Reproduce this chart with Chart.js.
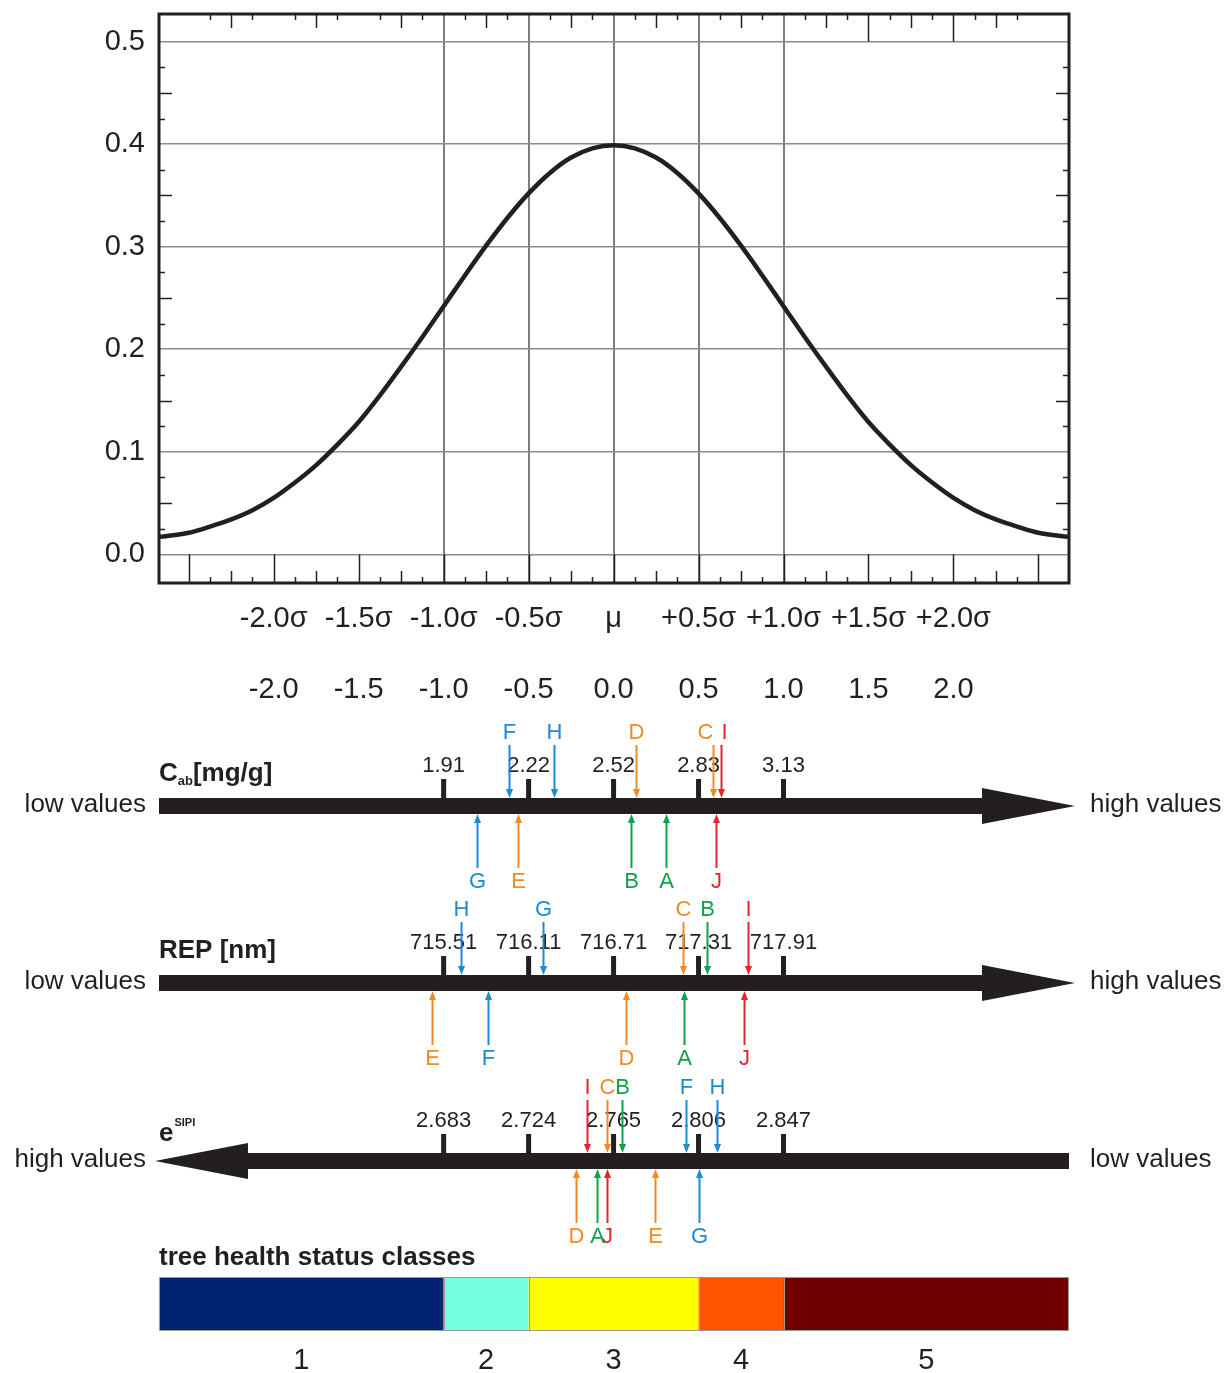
<!DOCTYPE html>
<html><head><meta charset="utf-8">
<script src="https://cdn.jsdelivr.net/npm/chart.js@4/dist/chart.umd.min.js"></script>
<style>html,body{margin:0;padding:0;background:#fff;}canvas{display:block;}</style>
</head><body>
<canvas id="c" width="1228" height="1373"></canvas>
<script>
// ---------- DATA ----------
const curveX = [-2.675, -2.5, -2.375, -2.25, -2.125, -2.0, -1.875, -1.75, -1.625, -1.5, -1.375, -1.25, -1.125, -1.0, -0.875, -0.75, -0.625, -0.5, -0.375, -0.25, -0.125, 0.0,
                0.125, 0.25, 0.375, 0.5, 0.625, 0.75, 0.875, 1.0, 1.125, 1.25, 1.375, 1.5, 1.625, 1.75, 1.875, 2.0, 2.125, 2.25, 2.375, 2.5, 2.68];
const curveY = [0.017, 0.021, 0.027, 0.034, 0.043, 0.055, 0.070, 0.087, 0.107, 0.129, 0.155, 0.183, 0.212, 0.242, 0.272, 0.301, 0.328, 0.352, 0.372, 0.387, 0.396, 0.399,
                0.396, 0.387, 0.372, 0.352, 0.328, 0.301, 0.272, 0.242, 0.212, 0.183, 0.155, 0.129, 0.107, 0.087, 0.070, 0.055, 0.043, 0.034, 0.027, 0.021, 0.017];
const yTickValues = [0.0, 0.1, 0.2, 0.3, 0.4, 0.5];
const xTickValues = [-2.0, -1.5, -1.0, -0.5, 0.0, 0.5, 1.0, 1.5, 2.0];
const sigmaLabels = ['-2.0σ', '-1.5σ', '-1.0σ', '-0.5σ', 'μ', '+0.5σ', '+1.0σ', '+1.5σ', '+2.0σ'];
const zLabels = ['-2.0', '-1.5', '-1.0', '-0.5', '0.0', '0.5', '1.0', '1.5', '2.0'];
const gridSigma = [-1.0, -0.5, 0.0, 0.5, 1.0];

const refSigma = [-1.0, -0.5, 0.0, 0.5, 1.0];
const cabTicks = [1.91, 2.22, 2.52, 2.83, 3.13];
const repTicks = [715.51, 716.11, 716.71, 717.31, 717.91];
const sipiTicks = [2.683, 2.724, 2.765, 2.806, 2.847];

const letters = ['A', 'B', 'C', 'D', 'E', 'F', 'G', 'H', 'I', 'J'];
const letterGroup = ['green', 'green', 'orange', 'orange', 'orange', 'blue', 'blue', 'blue', 'red', 'red'];
const cabValues = [2.71, 2.585, 2.88, 2.60, 2.18, 2.15, 2.03, 2.31, 2.91, 2.89];
const cabSide = ['below', 'below', 'above', 'above', 'below', 'above', 'below', 'above', 'above', 'below'];
const repValues = [717.21, 717.37, 717.20, 716.80, 715.43, 715.82, 716.21, 715.63, 717.66, 717.63];
const repSide = ['below', 'above', 'above', 'below', 'below', 'below', 'above', 'above', 'above', 'below'];
const sipiValues = [2.757, 2.769, 2.762, 2.747, 2.785, 2.800, 2.806, 2.815, 2.752, 2.762];
const sipiSide = ['below', 'above', 'above', 'below', 'below', 'above', 'below', 'above', 'above', 'below'];

const classNames = ['1', '2', '3', '4', '5'];
const classBounds = [-2.675, -1.0, -0.5, 0.5, 1.0, 2.68];
const classColors = ['#002270', '#74ffdf', '#ffff00', '#ff5500', '#700000'];

// ---------- STYLE / LAYOUT ----------
const INK = '#231f20';
const FONT = '"Liberation Sans", Arial, sans-serif';
const groupColors = {green: '#12a04b', orange: '#f28a22', blue: '#1b8bd2', red: '#e3262b'};
const labelNudge = [{C: -8, I: 3}, {}, {}];

function toSigma(v, ticks) {
  let i = 0;
  if (v > ticks[ticks.length - 1]) i = ticks.length - 2;
  else { while (i < ticks.length - 2 && v > ticks[i + 1]) i++; }
  const t = (v - ticks[i]) / (ticks[i + 1] - ticks[i]);
  return refSigma[i] + t * (refSigma[i + 1] - refSigma[i]);
}

const rows = [
  {ticks: cabTicks, dec: 2, values: cabValues, sides: cabSide, dir: 'right', leftText: 'low values', rightText: 'high values', title: 'cab', cy: 806},
  {ticks: repTicks, dec: 2, values: repValues, sides: repSide, dir: 'right', leftText: 'low values', rightText: 'high values', title: 'rep', cy: 983},
  {ticks: sipiTicks, dec: 3, values: sipiValues, sides: sipiSide, dir: 'left', leftText: 'high values', rightText: 'low values', title: 'sipi', cy: 1161}
];

function drawTitle(ctx, kind, x, cy) {
  ctx.fillStyle = INK;
  ctx.textAlign = 'left';
  ctx.textBaseline = 'alphabetic';
  if (kind === 'cab') {
    const base = cy - 25;
    ctx.font = 'bold 26px ' + FONT;
    ctx.fillText('C', x, base);
    let w = ctx.measureText('C').width;
    ctx.font = 'bold 13px ' + FONT;
    ctx.fillText('ab', x + w, base + 4);
    w += ctx.measureText('ab').width;
    ctx.font = 'bold 26px ' + FONT;
    ctx.fillText('[mg/g]', x + w, base);
  } else if (kind === 'rep') {
    ctx.font = 'bold 26px ' + FONT;
    ctx.fillText('REP [nm]', x, cy - 25);
  } else {
    ctx.font = 'bold 26px ' + FONT;
    ctx.fillText('e', x, cy - 20);
    const w = ctx.measureText('e').width;
    ctx.font = 'bold 11px ' + FONT;
    ctx.fillText('SIPI', x + w + 1, cy - 35);
  }
}

const decor = {
  id: 'decor',
  afterDatasetsDraw(chart) {
    const ctx = chart.ctx, a = chart.chartArea, xs = chart.scales.x, ys = chart.scales.y;
    ctx.save();
    ctx.strokeStyle = INK;
    ctx.lineWidth = 1.5;
    const y0 = ys.getPixelForValue(0), y5 = ys.getPixelForValue(0.5);
    for (let i = -20; i <= 20; i++) {
      const v = i / 8, px = Math.round(xs.getPixelForValue(v)) + 0.5;
      if (px <= a.left + 2 || px >= a.right - 2) continue;
      const lb = (i % 4 === 0) ? (a.bottom - y0) : (i % 2 === 0 ? 12 : 6);
      ctx.beginPath(); ctx.moveTo(px, a.bottom); ctx.lineTo(px, a.bottom - lb); ctx.stroke();
      let lt;
      if (i % 4 === 0) lt = (i === 12 || i === 16) ? (y5 - a.top) : 0;
      else lt = (i % 2 === 0) ? 14 : 6;
      if (lt > 0) { ctx.beginPath(); ctx.moveTo(px, a.top); ctx.lineTo(px, a.top + lt); ctx.stroke(); }
    }
    for (let i = 1; i <= 20; i++) {
      if (i % 4 === 0) continue;
      const py = Math.round(ys.getPixelForValue(i * 0.025)) + 0.5;
      const l = (i % 2 === 0) ? 13 : 6;
      ctx.beginPath(); ctx.moveTo(a.left, py); ctx.lineTo(a.left + l, py); ctx.stroke();
      ctx.beginPath(); ctx.moveTo(a.right, py); ctx.lineTo(a.right - l, py); ctx.stroke();
    }
    ctx.lineWidth = 3;
    ctx.strokeRect(a.left, a.top, a.right - a.left, a.bottom - a.top);
    ctx.restore();
  },
  afterDraw(chart) {
    const ctx = chart.ctx, a = chart.chartArea, xs = chart.scales.x;
    ctx.save();
    rows.forEach((r, ri) => {
      const c = r.cy;
      ctx.fillStyle = INK;
      if (r.dir === 'right') {
        const tip = a.right + 6, base = tip - 93;
        ctx.fillRect(a.left, c - 8, base - a.left, 16);
        ctx.beginPath(); ctx.moveTo(base, c - 18); ctx.lineTo(tip, c); ctx.lineTo(base, c + 18); ctx.closePath(); ctx.fill();
      } else {
        const tip = a.left - 4, base = tip + 93;
        ctx.fillRect(base, c - 8, a.right - base, 16);
        ctx.beginPath(); ctx.moveTo(base, c - 18); ctx.lineTo(tip, c); ctx.lineTo(base, c + 18); ctx.closePath(); ctx.fill();
      }
      ctx.font = '22px ' + FONT;
      ctx.textAlign = 'center'; ctx.textBaseline = 'middle';
      r.ticks.forEach((t, i) => {
        const px = xs.getPixelForValue(refSigma[i]);
        ctx.fillStyle = INK;
        ctx.fillRect(px - 2.5, c - 27, 5, 20);
        ctx.fillText(t.toFixed(r.dec), px, c - 40);
      });
      ctx.font = '26px ' + FONT;
      ctx.textBaseline = 'middle';
      ctx.textAlign = 'right'; ctx.fillText(r.leftText, a.left - 13, c - 1);
      ctx.textAlign = 'left'; ctx.fillText(r.rightText, a.right + 21, c - 1);
      drawTitle(ctx, r.title, a.left, c);
      r.values.forEach((v, i) => {
        const px = Math.round(xs.getPixelForValue(toSigma(v, r.ticks))) + 0.5;
        const lx = px + (labelNudge[ri][letters[i]] || 0);
        const col = groupColors[letterGroup[i]];
        ctx.strokeStyle = col; ctx.fillStyle = col; ctx.lineWidth = 2;
        ctx.font = '22px ' + FONT; ctx.textAlign = 'center'; ctx.textBaseline = 'middle';
        if (r.sides[i] === 'above') {
          ctx.beginPath(); ctx.moveTo(px, c - 61); ctx.lineTo(px, c - 16); ctx.stroke();
          ctx.beginPath(); ctx.moveTo(px - 3.5, c - 17); ctx.lineTo(px + 3.5, c - 17); ctx.lineTo(px, c - 8); ctx.closePath(); ctx.fill();
          ctx.fillText(letters[i], lx, c - 73);
        } else {
          ctx.beginPath(); ctx.moveTo(px, c + 62); ctx.lineTo(px, c + 16); ctx.stroke();
          ctx.beginPath(); ctx.moveTo(px - 3.5, c + 17); ctx.lineTo(px + 3.5, c + 17); ctx.lineTo(px, c + 8); ctx.closePath(); ctx.fill();
          ctx.fillText(letters[i], lx, c + 76);
        }
      });
    });
    const bt = 1277, bh = 54;
    ctx.fillStyle = INK; ctx.textAlign = 'left'; ctx.textBaseline = 'middle';
    ctx.font = 'bold 26px ' + FONT;
    ctx.fillText('tree health status classes', a.left, 1258);
    classNames.forEach((n, i) => {
      const x1 = xs.getPixelForValue(classBounds[i]), x2 = xs.getPixelForValue(classBounds[i + 1]);
      ctx.fillStyle = classColors[i];
      ctx.fillRect(x1, bt, x2 - x1, bh);
      ctx.fillStyle = INK; ctx.textAlign = 'center';
      ctx.font = '29px ' + FONT;
      ctx.fillText(n, (x1 + x2) / 2, 1361);
    });
    ctx.strokeStyle = '#9a9a9a'; ctx.lineWidth = 1;
    ctx.strokeRect(a.left + 0.5, bt + 0.5, a.right - a.left - 1, bh - 1);
    classBounds.slice(1, -1).forEach(b => {
      const px = Math.round(xs.getPixelForValue(b)) + 0.5;
      ctx.beginPath(); ctx.moveTo(px, bt); ctx.lineTo(px, bt + bh); ctx.stroke();
    });
    ctx.restore();
  }
};

new Chart(document.getElementById('c'), {
  type: 'line',
  data: {
    datasets: [{
      data: curveX.map((x, i) => ({x: x, y: curveY[i]})),
      borderColor: INK, borderWidth: 4.5, pointRadius: 0,
      cubicInterpolationMode: 'monotone', fill: false
    }]
  },
  options: {
    responsive: false, animation: false, devicePixelRatio: 1,
    layout: {padding: {left: 0, right: 159, top: 14, bottom: 650}},
    plugins: {legend: {display: false}, tooltip: {enabled: false}},
    scales: {
      x: {
        type: 'linear', min: -2.675, max: 2.68,
        afterBuildTicks: s => { s.ticks = xTickValues.map(v => ({value: v})); },
        afterFit: s => { s.height = 140; s.paddingLeft = 0; s.paddingRight = 0; },
        border: {display: false},
        grid: {
          drawTicks: false, lineWidth: 2,
          color: c => (c.tick && gridSigma.includes(c.tick.value)) ? '#7d7d7d' : 'rgba(0,0,0,0)'
        },
        ticks: {
          autoSkip: false, maxRotation: 0, padding: 0, color: INK,
          font: {family: FONT, size: 29, lineHeight: 2.45},
          callback: (v) => { const i = xTickValues.indexOf(v); return i < 0 ? '' : [sigmaLabels[i], zLabels[i]]; }
        }
      },
      y: {
        type: 'linear', min: -0.028, max: 0.527,
        afterBuildTicks: s => { s.ticks = yTickValues.map(v => ({value: v})); },
        afterFit: s => { s.width = 159; s.paddingTop = 0; s.paddingBottom = 0; },
        border: {display: false},
        grid: {drawTicks: false, color: '#8c8c8c', lineWidth: 1.5},
        ticks: {padding: 14, color: INK, font: {family: FONT, size: 29}, callback: v => v.toFixed(1)}
      }
    }
  },
  plugins: [decor]
});
</script>
</body></html>
